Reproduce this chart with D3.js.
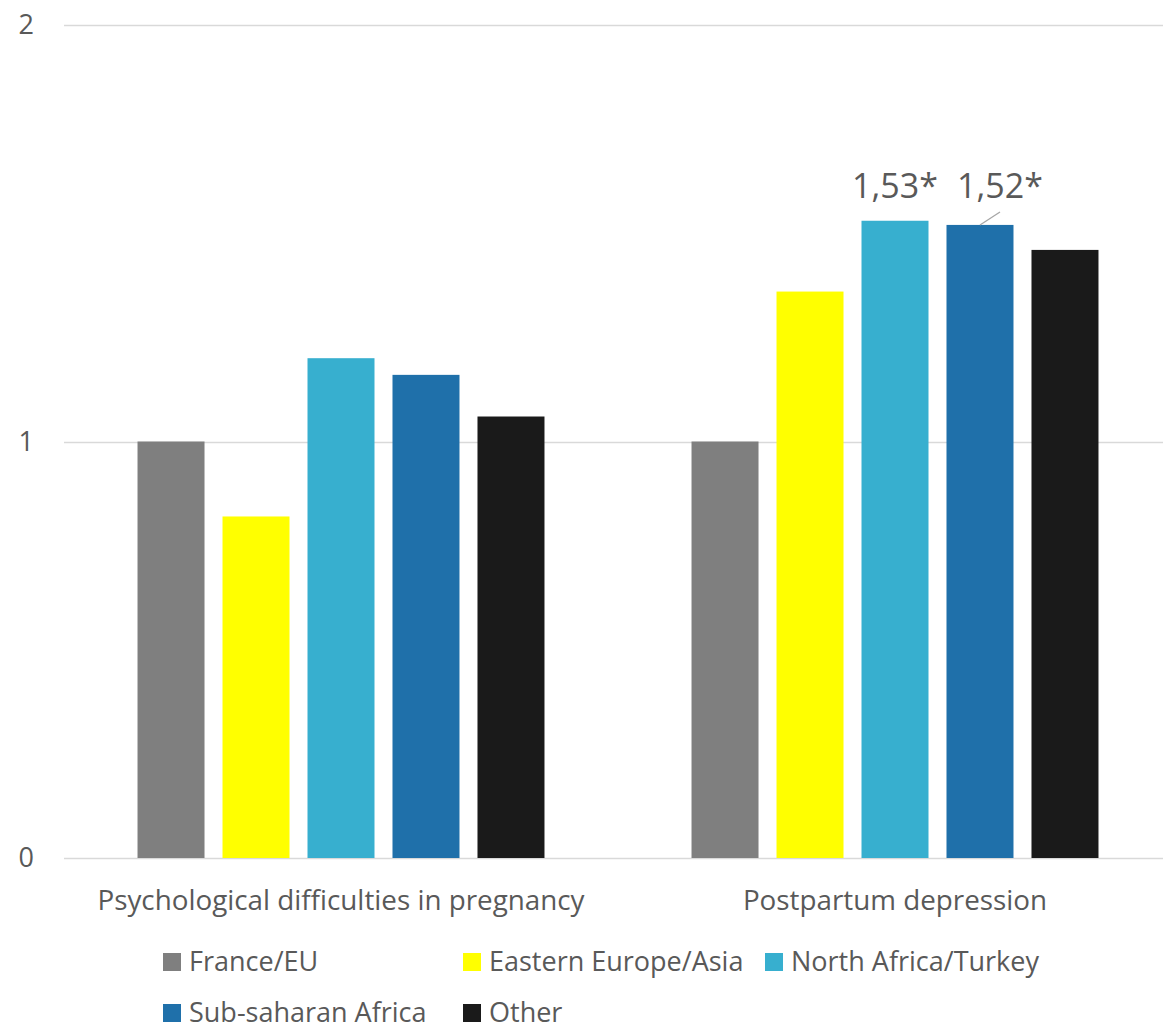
<!DOCTYPE html>
<html><head><meta charset="utf-8">
<script src="https://cdn.jsdelivr.net/npm/d3@7"></script>
<style>body{margin:0;background:#fff;} text{font-family:"Open Sans",sans-serif;fill:#595959;}</style>
</head><body>
<svg id="c" width="1163" height="1029"></svg>
<script>
const categories = ["Psychological difficulties in pregnancy", "Postpartum depression"];
const seriesNames = ["France/EU", "Eastern Europe/Asia", "North Africa/Turkey", "Sub-saharan Africa", "Other"];
const seriesColors = ["#7f7f7f", "#ffff00", "#37afcf", "#1f70aa", "#1a1a1a"];
const valuesPsych = [1, 0.82, 1.20, 1.16, 1.06];
const valuesPostpartum = [1, 1.36, 1.53, 1.52, 1.46];
const yTicks = [0, 1, 2];
const dataLabels = [{cat: 1, s: 2, text: "1,53*"}, {cat: 1, s: 3, text: "1,52*"}];

const allValues = [valuesPsych, valuesPostpartum];
const svg = d3.select("#c");
const y = d3.scaleLinear().domain([0, 2]).range([858, 25]);
const x0 = d3.scaleBand().domain(categories).range([64, 1172]);
const x1 = d3.scaleBand().domain(seriesNames).range([0, x0.bandwidth()]).paddingInner(0.2118).paddingOuter(0.865);

// gridlines
svg.append("g").selectAll("line").data(yTicks).join("line")
  .attr("x1", 64).attr("x2", 1163)
  .attr("y1", d => Math.round(y(d)) + 0.5).attr("y2", d => Math.round(y(d)) + 0.5)
  .attr("stroke", "#d9d9d9").attr("stroke-width", 1.5);

// y labels
svg.append("g").selectAll("text").data(yTicks).join("text")
  .attr("x", 34).attr("y", d => y(d)).attr("dy", "0.35em")
  .attr("text-anchor", "end").style("font-size", "27px").text(d => d);

// bars
categories.forEach((c, ci) => {
  svg.append("g").selectAll("rect").data(allValues[ci]).join("rect")
    .attr("x", (d, i) => x0(c) + x1(seriesNames[i]))
    .attr("width", x1.bandwidth())
    .attr("y", d => y(d))
    .attr("height", d => y(0) - y(d))
    .attr("fill", (d, i) => seriesColors[i]);
});

// category labels
svg.append("g").selectAll("text").data(categories).join("text")
  .attr("x", d => x0(d) + x0.bandwidth() / 2).attr("y", 910)
  .attr("text-anchor", "middle").style("font-size", "27.8px").text(d => d);

// data labels
const lbl = svg.append("g");
dataLabels.forEach(l => {
  const c = categories[l.cat];
  const cx = x0(c) + x1(seriesNames[l.s]) + x1.bandwidth() / 2;
  const v = allValues[l.cat][l.s];
  let tx = cx;
  if (l.s === 3) {
    tx = cx + 20;
    lbl.append("line").attr("x1", cx).attr("y1", y(v)).attr("x2", tx).attr("y2", y(v) - 13)
      .attr("stroke", "#a6a6a6").attr("stroke-width", 1.3);
  }
  lbl.append("text").attr("x", tx).attr("y", 198).attr("text-anchor", "middle")
    .style("font-size", "34px").text(l.text);
});

// legend
const legendPos = [[163, 962], [463, 962], [765, 962], [163, 1013], [463, 1013]];
const lg = svg.append("g");
seriesNames.forEach((s, i) => {
  const [lx, ly] = legendPos[i];
  lg.append("rect").attr("x", lx).attr("y", ly - 9).attr("width", 18).attr("height", 18).attr("fill", seriesColors[i]);
  lg.append("text").attr("x", lx + 26).attr("y", ly).attr("dy", "0.35em").style("font-size", "27px").text(s);
});
</script>
</body></html>
